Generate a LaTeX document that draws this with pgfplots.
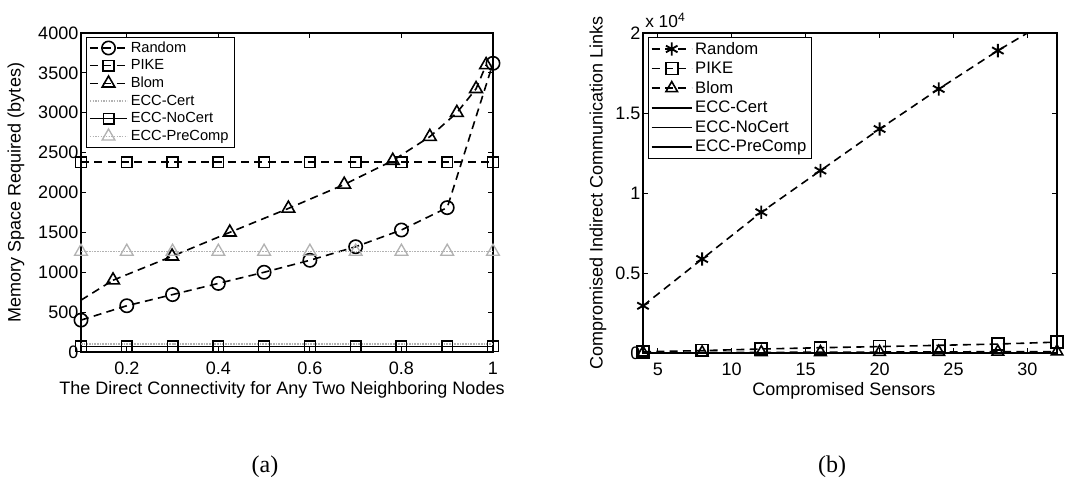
\documentclass[border=0pt]{standalone}
\usepackage{pgfplots}
\pgfplotsset{compat=1.18}
\usepackage{fontspec}
\setmainfont{Liberation Sans}
\newfontfamily\seriffont{Liberation Serif}

\pgfplotsset{
  mystyle/.style={
    scale only axis,
    tick align=inside,
    major tick length=4pt,
    axis line style={line width=0.8pt},
    every tick/.style={black, line width=0.6pt},
    tick label style={font=\fontsize{13.5}{16}\selectfont},
    xticklabel style={inner sep=0pt, yshift=-7.5pt},
    yticklabel style={xshift=1.5pt},
    /pgf/number format/assume math mode=true,
    scaled ticks=false,
  },
}
\tikzset{dsh/.style={dash pattern=on 6pt off 4pt}}

\begin{document}
\begin{tikzpicture}
% ---------------- (a) ----------------
\begin{axis}[mystyle,
  at={(60.75pt,100.5pt)}, anchor=south west,
  width=309pt, height=239.25pt,
  xmin=0.1, xmax=1, ymin=0, ymax=4000,
  xtick={0.2,0.4,0.6,0.8,1}, xticklabels={0.2,0.4,0.6,0.8,1},
  ytick={0,500,1000,1500,2000,2500,3000,3500,4000},
  yticklabels={0,500,1000,1500,2000,2500,3000,3500,4000},
  xlabel={The Direct Connectivity for Any Two Neighboring Nodes},
  ylabel={Memory Space Required (bytes)},
  every axis x label/.style={at={([xshift=-3.75pt,yshift=-32pt]axis description cs:0.5,0)}, anchor=base, inner sep=0pt, font=\fontsize{13.5}{16}\selectfont},
  every axis y label/.style={at={([xshift=-48.75pt]axis description cs:0,0.5)}, rotate=90, anchor=center, font=\fontsize{13.5}{16}\selectfont},
  legend image code/.code={\draw[mark repeat=2,mark phase=2,#1] plot coordinates {(0pt,0pt) (14pt,0pt) (28pt,0pt)};},
  legend style={at={([xshift=3.75pt,yshift=-3pt]axis description cs:0,1)}, anchor=north west,
    font=\fontsize{11}{12}\selectfont, draw=black, row sep=0pt, inner xsep=2pt, inner ysep=1.3pt,
    cells={anchor=west}},
]
\addplot[black, line width=1.2pt, dsh, mark=o, mark size=5pt, mark options={solid}]
  coordinates {(0.1,400)(0.2,580)(0.3,720)(0.4,860)(0.5,1000)(0.6,1150)(0.7,1320)(0.8,1530)(0.9,1810)(1,3620)};
\addlegendentry{Random}
\addplot[black, line width=1.2pt, dsh, mark=square, mark size=4pt, mark options={solid}]
  coordinates {(0.1,2380)(0.2,2380)(0.3,2380)(0.4,2380)(0.5,2380)(0.6,2380)(0.7,2380)(0.8,2380)(0.9,2380)(1,2380)};
\addlegendentry{PIKE}
\addplot[black, line width=1.2pt, dsh, forget plot]
  coordinates {(0.1,650)(0.17,900)};
\addplot[black, line width=1.2pt, dsh, mark=triangle, mark size=5.5pt, mark options={solid}]
  coordinates {(0.17,900)(0.299,1200)(0.425,1500)(0.553,1800)(0.675,2100)(0.781,2400)(0.862,2700)(0.921,3000)(0.963,3300)(0.985,3600)};
\addlegendentry{Blom}
\addplot[gray!60, line width=1.4pt, dash pattern=on 1.2pt off 0.8pt]
  coordinates {(0.1,105)(0.2,105)(0.3,105)(0.4,105)(0.5,105)(0.6,105)(0.7,105)(0.8,105)(0.9,105)(1,105)};
\addlegendentry{ECC-Cert}
\addplot[black, line width=1pt, mark=square, mark size=4pt, mark options={solid}]
  coordinates {(0.1,70)(0.2,70)(0.3,70)(0.4,70)(0.5,70)(0.6,70)(0.7,70)(0.8,70)(0.9,70)(1,70)};
\addlegendentry{ECC-NoCert}
\addplot[gray!60, line width=1pt, dash pattern=on 1.2pt off 0.8pt, mark=triangle, mark size=5.5pt, mark options={solid}]
  coordinates {(0.1,1260)(0.2,1260)(0.3,1260)(0.4,1260)(0.5,1260)(0.6,1260)(0.7,1260)(0.8,1260)(0.9,1260)(1,1260)};
\addlegendentry{ECC-PreComp}
\end{axis}

% ---------------- (b) ----------------
\begin{axis}[mystyle, name=b,
  at={(482.25pt,99.75pt)}, anchor=south west,
  width=310.5pt, height=240pt,
  xmin=4, xmax=32, ymin=0, ymax=20000,
  xtick={5,10,15,20,25,30}, xticklabels={5,10,15,20,25,30},
  ytick={0,5000,10000,15000,20000}, yticklabels={0,0.5,1,1.5,2},
  xlabel={Compromised Sensors},
  ylabel={Compromised Indirect Communication Links},
  every axis x label/.style={at={([xshift=-4.5pt,yshift=-32pt]axis description cs:0.5,0)}, anchor=base, inner sep=0pt, font=\fontsize{13.5}{16}\selectfont},
  every axis y label/.style={at={([xshift=-33.75pt]axis description cs:0,0.5)}, rotate=90, anchor=center, font=\fontsize{13.5}{16}\selectfont},
  legend image code/.code={\draw[mark repeat=2,mark phase=2,#1] plot coordinates {(0pt,0pt) (15pt,0pt) (30pt,0pt)};},
  legend style={at={([xshift=3.75pt,yshift=-3pt]axis description cs:0,1)}, anchor=north west,
    font=\fontsize{12.5}{14}\selectfont, draw=black, row sep=0.4pt, inner xsep=2pt, inner ysep=1.5pt,
    cells={anchor=west}},
]
\addplot[black, line width=1.2pt, dsh, mark=asterisk, mark size=5pt, mark options={solid, line width=1.4pt}]
  coordinates {(4,2950)(8,5875)(12,8800)(16,11400)(20,14000)(24,16500)(28,18900)(32,21100)};
\addlegendentry{Random}
\addplot[black, line width=1.2pt, dsh, mark=square, mark size=4.5pt, mark options={solid}]
  coordinates {(4,80)(8,150)(12,250)(16,330)(20,400)(24,480)(28,560)(32,680)};
\addlegendentry{PIKE}
\addplot[black, line width=1.2pt, dsh, mark=triangle, mark size=5pt, mark options={solid}]
  coordinates {(4,20)(8,30)(12,40)(16,50)(20,60)(24,70)(28,80)(32,90)};
\addlegendentry{Blom}
\addplot[black, line width=1.2pt] coordinates {(4,0)(8,0)(12,0)(16,0)(20,0)(24,0)(28,0)(32,0)};
\addlegendentry{ECC-Cert}
\addplot[black, line width=1.2pt] coordinates {(4,0)(8,0)(12,0)(16,0)(20,0)(24,0)(28,0)(32,0)};
\addlegendentry{ECC-NoCert}
\addplot[black, line width=1.2pt] coordinates {(4,0)(8,0)(12,0)(16,0)(20,0)(24,0)(28,0)(32,0)};
\addlegendentry{ECC-PreComp}
\end{axis}
\node[anchor=south west, inner sep=0pt, font=\fontsize{13}{15}\selectfont] at ([xshift=1.5pt,yshift=4pt]b.north west) {x 10\textsuperscript{4}};

\node[font=\seriffont\fontsize{18}{20}\selectfont] at (198.75pt,14.25pt) {(a)};
\node[font=\seriffont\fontsize{18}{20}\selectfont] at (624pt,14.25pt) {(b)};

\pgfresetboundingbox
\path[use as bounding box] (0pt,0pt) rectangle (802.5pt,364.5pt);
\end{tikzpicture}
\end{document}
